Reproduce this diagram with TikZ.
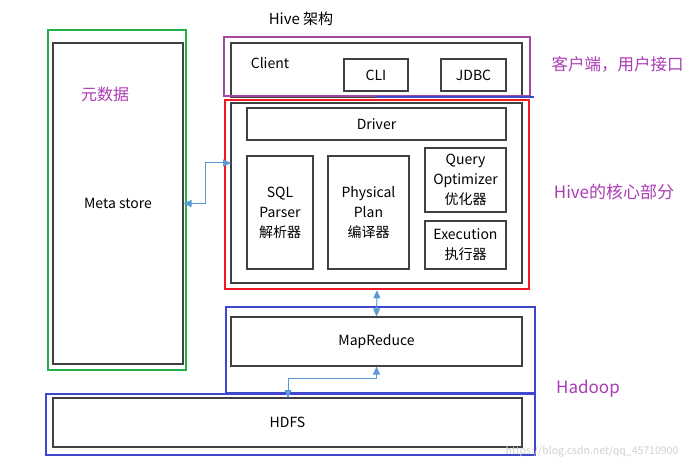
\documentclass[tikz,border=0pt]{standalone}
\usepackage{fontspec}
\setmainfont{Noto Sans CJK SC}
\usetikzlibrary{arrows.meta}
\definecolor{fgreen}{RGB}{34,177,76}
\definecolor{fred}{RGB}{237,28,36}
\definecolor{fpurple}{RGB}{163,73,164}
\definecolor{fblue}{RGB}{63,72,204}
\definecolor{arr}{RGB}{91,155,213}
\definecolor{lbl}{RGB}{170,60,180}
\tikzset{
  box/.style={draw=black!75, line width=1.1pt, inner sep=0pt, align=center, font=\fontsize{14}{20}\selectfont},
  frame/.style={draw=#1, line width=2.6pt, inner sep=0pt},
  lab/.style={text=lbl, font=\fontsize{16.5}{18}\selectfont, inner sep=0pt},
  conn/.style={draw=arr, line width=1pt, {Triangle[width=7pt,length=8pt,fill=arr]}-{Triangle[width=7pt,length=8pt,fill=arr]}},
}
\begin{document}
\begin{tikzpicture}[x=1pt,y=-1pt]
\useasboundingbox[fill=white] (0,0) rectangle (698,470);
% inner boxes
\node[box, minimum width=130pt, minimum height=321pt] (meta) at (118,203.5) {Meta store};
\node[box, minimum width=291pt, minimum height=54pt] (client) at (376.5,70) {};
\node[font=\fontsize{14}{16}\selectfont, inner sep=0pt] (clientlbl) at (270,63) {Client};
\node[box, minimum width=64pt, minimum height=32pt] (cli) at (376,75) {CLI};
\node[box, minimum width=65pt, minimum height=32pt] (jdbc) at (473.5,75) {JDBC};
\node[box, minimum width=291pt, minimum height=180pt] (core) at (376.5,193) {};
\node[box, minimum width=259pt, minimum height=32pt] (driver) at (376.5,124) {Driver};
\node[box, minimum width=66pt, minimum height=113pt] (sql) at (280,212.5) {SQL\\Parser\\解析器};
\node[box, minimum width=81pt, minimum height=113pt] (phys) at (368.5,212.5) {Physical\\Plan\\编译器};
\node[box, minimum width=81pt, minimum height=64pt] (opt) at (465.5,180) {Query\\Optimizer\\优化器};
\node[box, minimum width=81pt, minimum height=48pt] (exec) at (465.5,245) {Execution\\执行器};
\node[box, minimum width=291pt, minimum height=49pt] (mr) at (376.5,341.5) {MapReduce};
\node[box, minimum width=469pt, minimum height=49pt] (hdfs) at (287.5,422.5) {HDFS};
% colored frames
\node[frame=fgreen, minimum width=138pt, minimum height=340pt] (fg) at (117,200) {};
\node[frame=fred, minimum width=304pt, minimum height=189pt] (fr) at (377,194.5) {};
\node[frame=fpurple, minimum width=306pt, minimum height=59pt] (fp) at (377,66.5) {};
\node[frame=fblue, minimum width=309pt, minimum height=86pt] (fb1) at (380.5,350) {};
\node[frame=fblue, minimum width=489pt, minimum height=61pt] (fb2) at (290.5,424.5) {};
\coordinate (bl1) at (376,97);
\coordinate (bl2) at (534,97);
\draw[fblue, line width=2pt] (bl1) -- (bl2);
% labels
\node[font=\fontsize{15}{17}\selectfont, inner sep=0pt] (title) at (301,19) {Hive 架构};
\node[lab, font=\fontsize{16}{18}\selectfont] (l0) at (105,94) {元数据};
\node[lab] (l1) at (617.5,64) {客户端，用户接口};
\node[lab, font=\fontsize{17}{18}\selectfont] (l2) at (614,192) {Hive的核心部分};
\node[lab, font=\fontsize{17}{18}\selectfont] (l3) at (588,389) {Hadoop};
\node[text=black!18, font=\fontsize{10.5}{12}\selectfont, inner sep=0pt] (wm) at (592,452) {https://blog.csdn.net/qq\_45710900};
% connectors
\coordinate (m1) at (205,203.5);
\coordinate (c1) at (231,163);
\draw[conn] (meta.east) -- (m1) |- (c1);
\draw[conn] (fr.south) -- (mr.north);
\coordinate (h1) at (288,398);
\draw[conn] (mr.south) -- ++(0,12) -| (h1);
\end{tikzpicture}
\end{document}
